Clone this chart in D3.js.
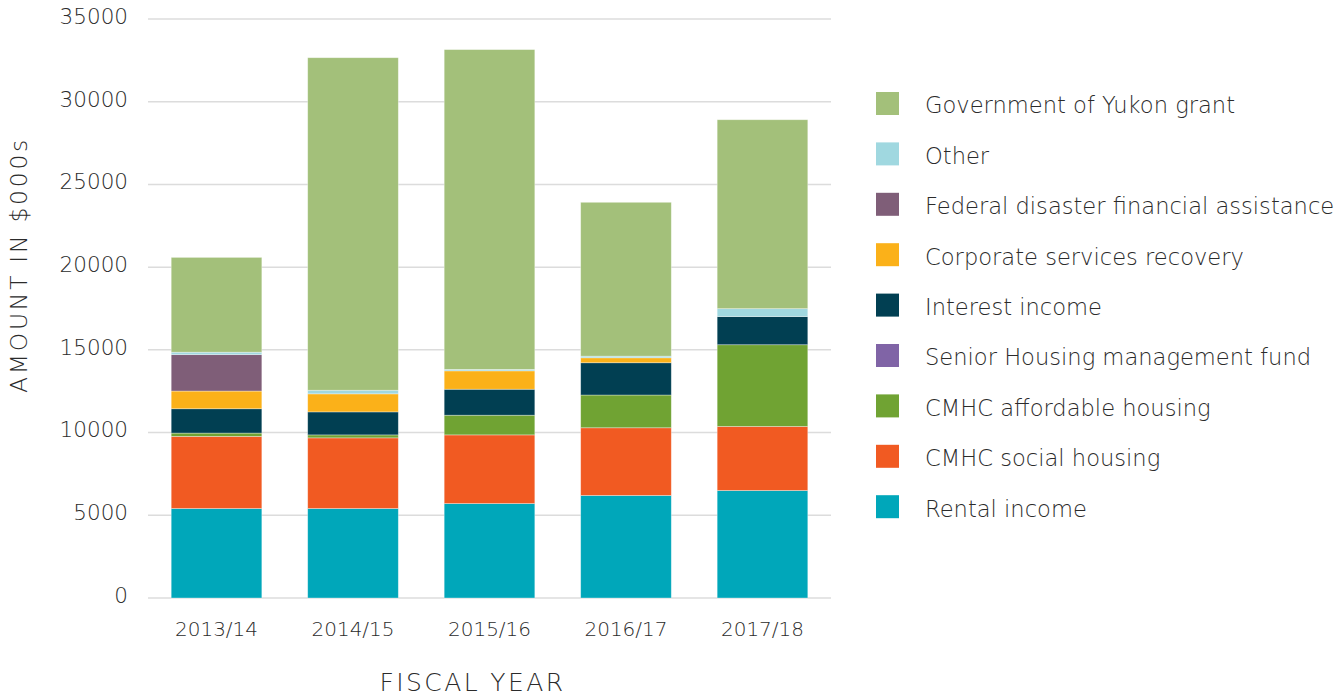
<!DOCTYPE html>
<html>
<head>
<meta charset="utf-8">
<script src="https://cdn.jsdelivr.net/npm/d3@7"></script>
<style>
    body { margin: 0; background: #fff; }
    svg text { font-family: "DejaVu Sans", "Open Sans", sans-serif; font-weight: 300; fill: #2b2b2b; }
</style>
</head>
<body>
<div id="chart"></div>
<script>
// Fiscal years
const years = ['2013/14', '2014/15', '2015/16', '2016/17', '2017/18'];

// Series, bottom of stack first (values in $000s)
const seriesNames = [
    'Rental income',
    'CMHC social housing',
    'CMHC affordable housing',
    'Senior Housing management fund',
    'Interest income',
    'Corporate services recovery',
    'Federal disaster financial assistance',
    'Other',
    'Government of Yukon grant'
];
const seriesColors = ['#00a7ba', '#f15a22', '#70a333', '#8064a6', '#013f52', '#fbb119', '#7f5e78', '#a0d8e0', '#a3c07a'];

const rentalIncome    = [5410, 5410, 5710, 6200, 6500];
const cmhcSocial      = [4360, 4270, 4150, 4090, 3870];
const cmhcAffordable  = [200, 180, 1190, 1980, 4940];
const seniorHousing   = [0, 0, 0, 0, 0];
const interestIncome  = [1470, 1390, 1570, 1950, 1700];
const corporateRecov  = [1070, 1090, 1110, 300, 0];
const federalDisaster = [2200, 0, 0, 0, 0];
const otherIncome     = [150, 220, 90, 100, 480];
const yukonGrant      = [5730, 20100, 19330, 9300, 11420];

const yTicks = [0, 5000, 10000, 15000, 20000, 25000, 30000, 35000];

const seriesValues = [rentalIncome, cmhcSocial, cmhcAffordable, seniorHousing, interestIncome,
    corporateRecov, federalDisaster, otherIncome, yukonGrant];

const rows = years.map((y, i) => {
    const r = { year: y };
    seriesNames.forEach((s, k) => { r[s] = seriesValues[k][i]; });
    return r;
});

const width = 1340, height = 696;
const margin = { top: 19, right: 509, bottom: 98, left: 148 };

const svg = d3.select('#chart').append('svg')
    .attr('width', width)
    .attr('height', height);

const x = d3.scaleBand()
    .domain(years)
    .range([margin.left, width - margin.right])
    .paddingInner(0.336)
    .paddingOuter(0.17);

const y = d3.scaleLinear()
    .domain([0, 35000])
    .range([height - margin.bottom, margin.top]);

// gridlines
svg.append('g')
    .selectAll('line')
    .data(yTicks)
    .join('line')
    .attr('x1', margin.left)
    .attr('x2', width - margin.right)
    .attr('y1', d => y(d))
    .attr('y2', d => y(d))
    .attr('stroke', '#dcdcdc')
    .attr('stroke-width', 1.5);

// y tick labels
const yAxis = svg.append('g')
    .attr('transform', `translate(${margin.left}, 0)`)
    .call(d3.axisLeft(y).tickValues(yTicks).tickSize(0).tickPadding(20).tickFormat(d3.format('d')));
yAxis.select('.domain').remove();
yAxis.selectAll('text').style('font-size', '21.5px').attr('dy', '0.2em');

// stacked bars
const stack = d3.stack().keys(seriesNames);
const layers = stack(rows);

svg.append('g')
    .selectAll('g')
    .data(layers)
    .join('g')
    .attr('fill', (d, i) => seriesColors[i])
    .selectAll('rect')
    .data(d => d)
    .join('rect')
    .attr('x', d => x(d.data.year))
    .attr('width', x.bandwidth())
    .attr('y', d => y(d[1]))
    .attr('height', d => Math.max(0, y(d[0]) - y(d[1])))
    .attr('stroke', 'rgba(255,255,255,0.45)')
    .attr('stroke-width', 0.75);

// x tick labels
const xAxis = svg.append('g')
    .attr('transform', `translate(0, ${y(0)})`)
    .call(d3.axisBottom(x).tickSize(0).tickPadding(24));
xAxis.select('.domain').remove();
xAxis.selectAll('text').style('font-size', '20px');

// axis titles
svg.append('text')
    .attr('x', (margin.left + width - margin.right) / 2 - 17)
    .attr('y', 691)
    .attr('text-anchor', 'middle')
    .style('font-size', '25px')
    .style('letter-spacing', '2.4px')
    .text('FISCAL YEAR');

svg.append('text')
    .attr('transform', 'translate(27, 265) rotate(-90)')
    .attr('text-anchor', 'middle')
    .style('font-size', '23.5px')
    .style('letter-spacing', '2.7px')
    .text('AMOUNT IN $000s');

// legend, top = last series
const legendItems = seriesNames.map((s, i) => ({ name: s, color: seriesColors[i] })).reverse();
const legend = svg.append('g').attr('transform', 'translate(876, 92)');
const item = legend.selectAll('g')
    .data(legendItems)
    .join('g')
    .attr('transform', (d, i) => `translate(0, ${i * 50.4})`);
item.append('rect')
    .attr('width', 23)
    .attr('height', 23)
    .attr('fill', d => d.color);
item.append('text')
    .attr('x', 49)
    .attr('y', 13.5)
    .attr('dy', '0.35em')
    .style('font-size', '22.6px')
    .text(d => d.name);
</script>
</body>
</html>
